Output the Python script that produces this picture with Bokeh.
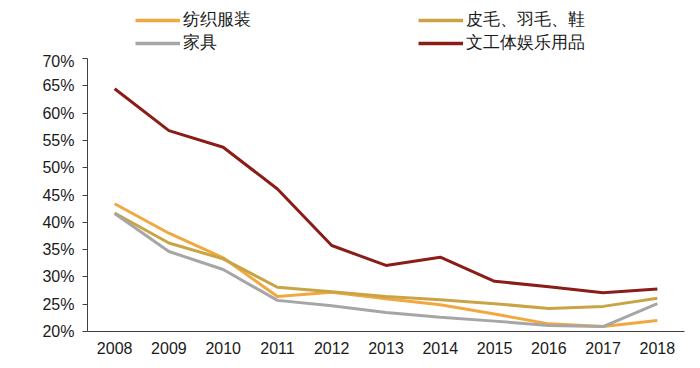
from bokeh.plotting import figure
from bokeh.layouts import column
from bokeh.models import (Range1d, FactorRange, FixedTicker, PrintfTickFormatter,
                          Legend, LegendItem)
from bokeh.embed import file_html
from bokeh.resources import INLINE

years = ["2008", "2009", "2010", "2011", "2012", "2013", "2014", "2015", "2016", "2017", "2018"]

textile = [43.4, 38.0, 33.5, 26.4, 27.2, 26.0, 24.9, 23.2, 21.4, 20.9, 22.0]
leather = [41.7, 36.2, 33.3, 28.1, 27.3, 26.4, 25.8, 25.1, 24.2, 24.6, 26.1]
furniture = [41.6, 34.65, 31.35, 25.7, 24.7, 23.5, 22.6, 21.9, 21.1, 20.9, 25.1]
culture = [64.45, 56.8, 53.75, 46.1, 35.75, 32.1, 33.6, 29.2, 28.2, 27.1, 27.8]

names = ["纺织服装", "皮毛、羽毛、鞋", "家具", "文工体娱乐用品"]
colors = ["#F2A840", "#C9A444", "#A6A6A6", "#8B1D18"]
y_ticks = [20, 25, 30, 35, 40, 45, 50, 55, 60, 65, 70]

p = figure(width=698, height=312, x_range=FactorRange(*years), y_range=Range1d(20, 70),
           output_backend="svg", toolbar_location=None,
           min_border_left=87, min_border_top=6, min_border_right=14, min_border_bottom=33)
p.outline_line_color = None
p.xgrid.grid_line_color = None
p.ygrid.grid_line_color = None

for series, c in zip([textile, leather, furniture, culture], colors):
    p.line(years, series, line_color=c, line_width=3)

ax = p.yaxis[0]
ax.ticker = FixedTicker(ticks=y_ticks)
ax.formatter = PrintfTickFormatter(format="%d%%")
ax.major_tick_in = 0
ax.major_tick_out = 5
ax.minor_tick_line_color = None
ax.axis_line_color = "#404040"
ax.major_tick_line_color = "#404040"
ax.major_label_text_font = "Liberation Sans"
ax.major_label_text_font_size = "16px"
ax.major_label_text_color = "#1a1a1a"
ax.major_label_standoff = 8

xa = p.xaxis[0]
xa.major_tick_in = 0
xa.major_tick_out = 0
xa.axis_line_color = "#404040"
xa.major_label_text_font = "Liberation Sans"
xa.major_label_text_font_size = "16px"
xa.major_label_text_color = "#1a1a1a"
xa.major_label_standoff = 10

# legend strip above the chart (its frame is aligned with the chart's frame)
lf = figure(width=698, height=52, x_range=Range1d(0, 1), y_range=Range1d(0, 1),
            x_axis_type=None, y_axis_type=None, output_backend="svg", toolbar_location=None,
            min_border_left=0, min_border_right=0, min_border_top=0, min_border_bottom=0)
lf.outline_line_color = None
lf.xgrid.grid_line_color = None
lf.ygrid.grid_line_color = None
nan = float("nan")
keys = [lf.line(x=[nan], y=[nan], line_color=c, line_width=3.5) for c in colors]


def make_legend(idx, loc):
    items = [LegendItem(label=names[i], renderers=[keys[i]]) for i in idx]
    return Legend(items=items, location=loc, orientation="vertical",
                  padding=0, margin=0, spacing=0,
                  glyph_width=45, glyph_height=18, label_height=18, label_standoff=3,
                  label_text_font="Liberation Sans", label_text_font_size="17px",
                  label_text_color="#1a1a1a",
                  border_line_color=None, background_fill_alpha=0)


lf.add_layout(make_legend([0, 2], (48, -2)))
lf.add_layout(make_legend([1, 3], (331, -2)))

layout = column(lf, p, spacing=0)
open("out.html", "w").write(file_html(layout, INLINE))
